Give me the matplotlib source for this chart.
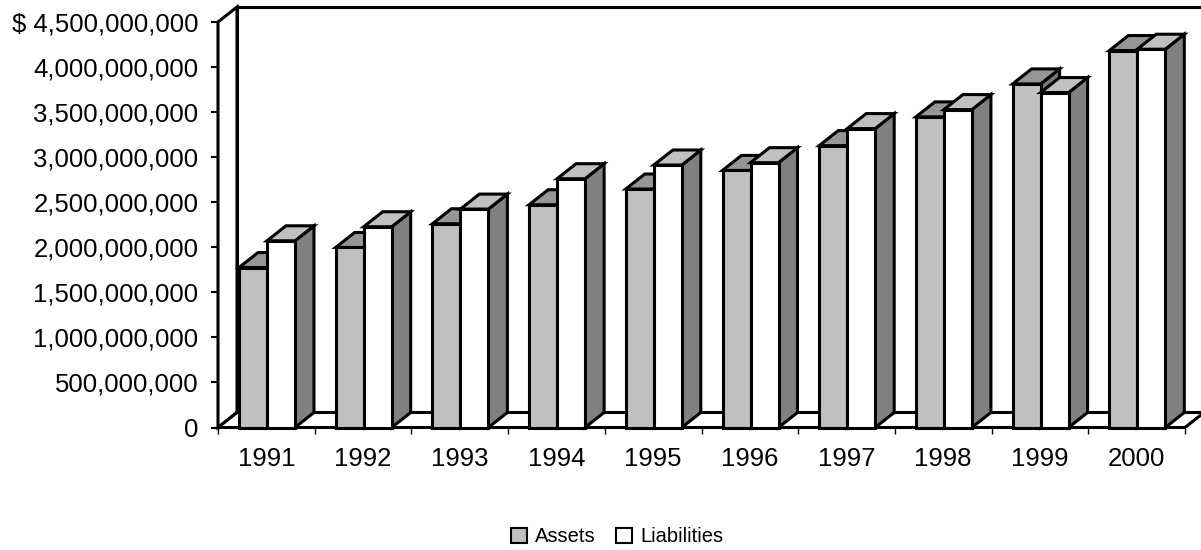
import numpy as np
import matplotlib
matplotlib.use("Agg")
import matplotlib.pyplot as plt
from matplotlib.patches import Polygon, Patch

# data (dollars)
years = ['1991', '1992', '1993', '1994', '1995', '1996', '1997', '1998', '1999', '2000']
assets = np.array([1775, 1998, 2261, 2472, 2647, 2853, 3128, 3447, 3813, 4183]) * 1e6
liabilities = np.array([2072, 2228, 2424, 2761, 2913, 2939, 3317, 3528, 3717, 4198]) * 1e6
series_names = ['Assets', 'Liabilities']
yticks = np.arange(0, 4.5e9 + 1, 5e8)

ymax = 4.5e9
n = len(years)

plt.rcParams['font.family'] = ['Liberation Sans', 'DejaVu Sans']

fig = plt.figure(figsize=(12.01, 5.5), dpi=100)
# front plane of the 3d box
ax = fig.add_axes([218 / 1201, 122.5 / 550, 967 / 1201, 405.5 / 550])
ax.set_xlim(0, n)
ax.set_ylim(0, ymax)
for s in ax.spines.values():
    s.set_visible(False)

# depth offset in data units (about 19 px right, 15 px up)
dx = 19 / 96.7
dy = 15 * ymax / 405.5

lw = 2.2


def face(pts, color):
    ax.add_patch(Polygon(pts, closed=True, facecolor=color, edgecolor='black',
                         lw=lw, joinstyle='miter', clip_on=False))


def box(x0, w, h, front, top, side):
    face([(x0 + w, 0), (x0 + w + dx, dy), (x0 + w + dx, h + dy), (x0 + w, h)], side)
    face([(x0, h), (x0 + w, h), (x0 + w + dx, h + dy), (x0 + dx, h + dy)], top)
    face([(x0, 0), (x0 + w, 0), (x0 + w, h), (x0, h)], front)


# walls and floor
face([(dx, dy), (n + dx, dy), (n + dx, ymax + dy), (dx, ymax + dy)], 'white')
face([(0, 0), (dx, dy), (dx, ymax + dy), (0, ymax)], 'white')
face([(0, 0), (n, 0), (n + dx, dy), (dx, dy)], 'white')

gap = 21 / 96.7
bw = 28 / 96.7
for i in range(n):
    x0 = i + gap
    box(x0, bw, assets[i], '#c0c0c0', '#969696', '#777777')
    box(x0 + bw, bw, liabilities[i], 'white', '#c0c0c0', '#808080')

# y axis
ax.set_yticks(yticks)
labels = [f"{v:,.0f}" for v in yticks]
labels[-1] = '$ ' + labels[-1]
ax.set_yticklabels(labels, fontsize=18.5)
ax.tick_params(axis='y', direction='out', length=5, width=1.5, pad=9, colors='black')

# x axis
ax.set_xticks(np.arange(n) + 0.5)
ax.set_xticklabels(years, fontsize=18.5)
ax.set_xticks(np.arange(n + 1), minor=True)
ax.tick_params(axis='x', which='major', length=0, pad=14)
ax.tick_params(axis='x', which='minor', direction='out', length=4, width=1)

handles = [Patch(facecolor='#c0c0c0', edgecolor='black', lw=1.5),
           Patch(facecolor='white', edgecolor='black', lw=1.5)]
fig.legend(handles, series_names, loc='center', bbox_to_anchor=(617 / 1201, 1 - 537 / 550),
           ncol=2, frameon=False, fontsize=14.5, handlelength=0.8, handleheight=0.8,
           handletextpad=0.4, columnspacing=1.0)

fig.savefig('out.png', dpi=100)
